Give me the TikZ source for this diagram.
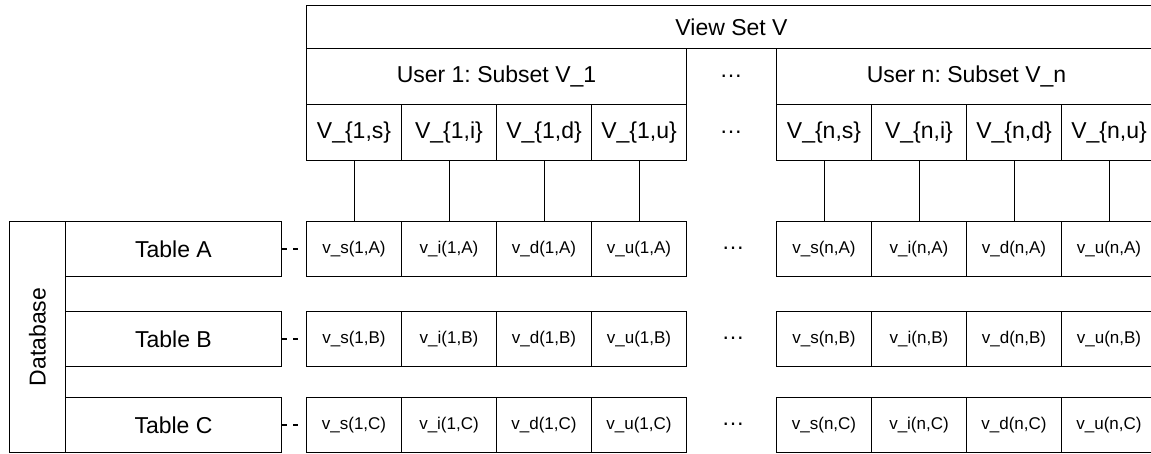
\documentclass[tikz,border=0pt]{standalone}
\usepackage{fontspec}
\setmainfont{Liberation Sans}
\frenchspacing
\begin{document}
\begin{tikzpicture}[x=1pt, y=-1pt, line width=1pt,
  bigfont/.style={font=\fontsize{23}{27}\selectfont},
  smallfont/.style={font=\fontsize{17}{20}\selectfont},
  box/.style={draw, rectangle, inner sep=0pt, anchor=north west},
  head/.style={box, bigfont, minimum height=56pt},
  vcell/.style={box, bigfont, minimum width=95pt, minimum height=56pt},
  tcell/.style={box, smallfont, minimum width=95pt, minimum height=55pt},
  tabbox/.style={box, bigfont, minimum width=216pt, minimum height=55pt},
  dots/.style={bigfont, inner sep=0pt},
  link/.style={line width=1pt},
  ref/.style={line width=1.1pt, dash pattern={on 5pt off 6pt on 5pt off 9pt}}]
  \path[use as bounding box] (0,0) rectangle (1151,453);
  \clip (0,0) rectangle (1151,453);

  % view set header
  \node[box, bigfont, minimum width=850pt, minimum height=43pt] (viewset) at (306,5) {View Set V};

  % user subsets
  \node[head, minimum width=380pt] (user1) at (306,48) {User 1: Subset V\_1};
  \node[head, minimum width=380pt] (usern) at (776,48) {User n: Subset V\_n};
  \node[dots] (udots) at (731,76) {…};
  \node[dots] (vdots) at (731,132) {…};

  % database and its tables
  \node[box, minimum width=56pt, minimum height=231pt] (db) at (9,221) {};
  \node[bigfont, rotate=90, inner sep=0pt] (dblabel) at (db.center) {Database};
  \foreach \r/\y in {A/221, B/311, C/397} {
    \node[tabbox] (tab\r) at (65,\y) {Table \r};
    \node[dots] (rdots\r) at (733,\y+27.5) {…};
  }

  % per-user view cells and per-table entries
  \foreach \u/\xo in {1/306, n/776} {
    \foreach \t [count=\k from 0] in {s,i,d,u} {
      \node[vcell] (V\u\t) at (\xo+95*\k,104) {V\_\{\u,\t\}};
      \foreach \r/\y in {A/221, B/311, C/397} {
        \node[tcell] (v\t\u\r) at (\xo+95*\k,\y) {v\_\t(\u,\r)};
      }
      \draw[link] (V\u\t.south) -- (v\t\u A.north);
    }
  }

  % table-to-entry references
  \foreach \r in {A,B,C} {
    \draw[ref] (tab\r.east) -- (vs1\r.west);
  }
\end{tikzpicture}
\end{document}
